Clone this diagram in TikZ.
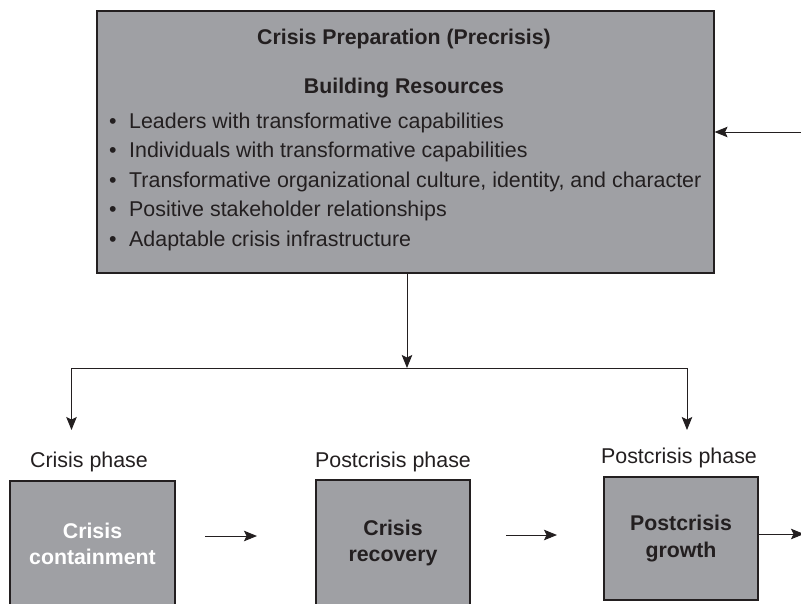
\documentclass[tikz,border=0pt]{standalone}
\usepackage{fontspec}
\setmainfont{Liberation Sans}
\usetikzlibrary{arrows.meta}
\definecolor{boxgray}{RGB}{159,160,164}
\definecolor{ink}{RGB}{35,31,32}
\tikzset{
  phasebox/.style={draw=ink, line width=1.1pt, fill=boxgray, inner sep=0pt},
  txt/.style={font=\fontsize{21.4}{26.5}\selectfont, text=ink, inner sep=0pt},
  boldtxt/.style={txt, font=\fontsize{21.3}{26.5}\selectfont\bfseries},
  arr/.style={draw=ink, line width=1pt, -{Stealth[length=13pt,width=10.5pt,inset=2.5pt]}},
  line/.style={draw=ink, line width=1pt}
}
\begin{document}
\begin{tikzpicture}[x=1pt,y=-1pt]
\clip (0,0) rectangle (801,603);
\fill[white] (0,0) rectangle (801,603);

% Precrisis preparation box
\node[phasebox, minimum width=617pt, minimum height=262pt] (prep) at (405.5,142) {};
\node[boldtxt, anchor=base] (title) at (404,44) {Crisis Preparation (Precrisis)};
\node[boldtxt, anchor=base] (sub) at (404,93) {Building Resources};
\foreach \y/\t [count=\i] in {128/Leaders with transformative capabilities,
  157.5/Individuals with transformative capabilities,
  187/{Transformative organizational culture, identity, and character},
  216.5/Positive stakeholder relationships,
  246/Adaptable crisis infrastructure}{
  \node[txt, anchor=base west] (item\i) at (109,\y) {\makebox[20pt][l]{\textbullet}\t};
}

% Phase boxes
\node[phasebox, minimum width=165pt, minimum height=126pt] (contain) at (92.5,544) {};
\node[boldtxt, align=center, text=white] (containtxt) at (contain.center) {Crisis\\containment};
\node[phasebox, minimum width=154pt, minimum height=126pt] (recover) at (393,543) {};
\node[boldtxt, align=center] (recovertxt) at (recover.center) {Crisis\\recovery};
\node[phasebox, minimum width=154pt, minimum height=123pt] (growth) at (681,538.5) {};
\node[boldtxt, align=center] (growthtxt) at (growth.center) {Postcrisis\\growth};

% Phase labels
\node[txt, anchor=base] (lab1) at (89,467) {Crisis phase};
\node[txt, anchor=base] (lab2) at (393,467) {Postcrisis phase};
\node[txt, anchor=base] (lab3) at (679,463) {Postcrisis phase};

% Connector points
\coordinate (feedin) at (801,132);
\coordinate (split) at (407,368);
\coordinate (downL) at (71.5,430);
\coordinate (downR) at (687,430);
\coordinate (a1s) at (205,536);
\coordinate (a1e) at (257,536);
\coordinate (a2s) at (506,535);
\coordinate (a2e) at (557,535);
\coordinate (out) at (804,534);

% Connectors
\draw[arr] (feedin) -- (feedin -| prep.east);
\draw[arr] (split |- prep.south) -- (split);
\draw[arr] (split) -| (downL);
\draw[arr] (split) -| (downR);
\draw[arr] (a1s) -- (a1e);
\draw[arr] (a2s) -- (a2e);
\draw[arr] (growth.east |- out) -- (out);
\end{tikzpicture}
\end{document}
